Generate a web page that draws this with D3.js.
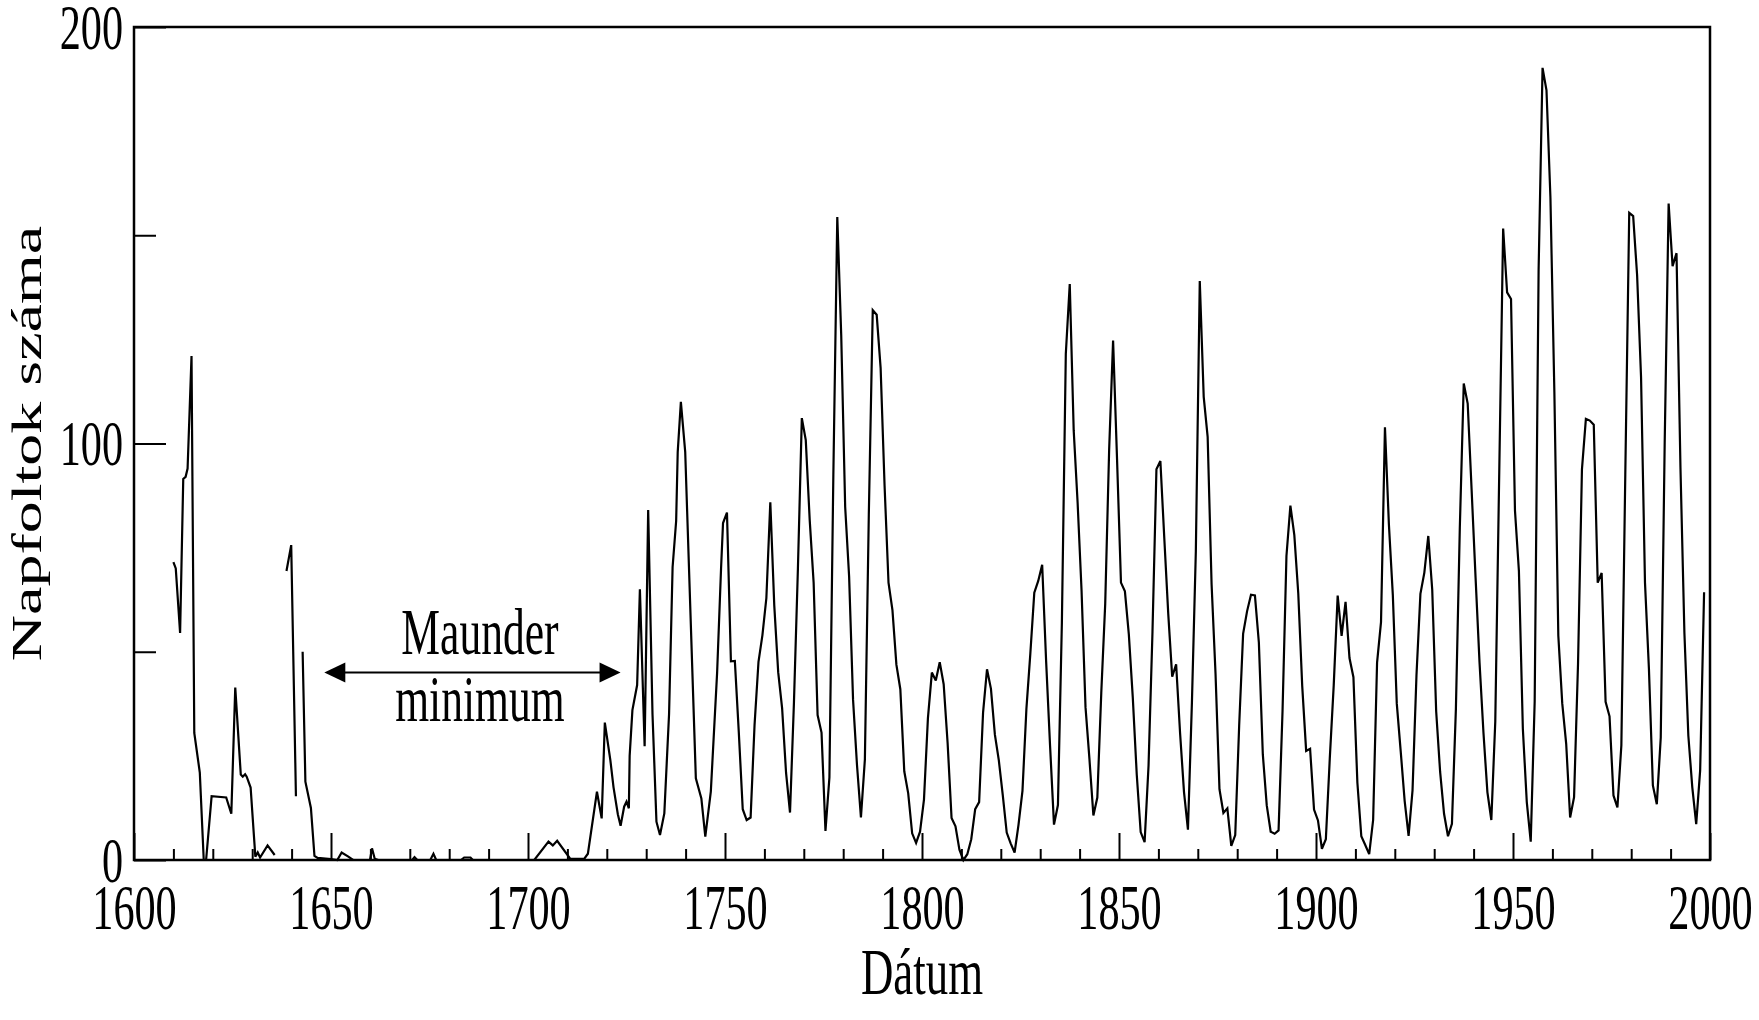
<!DOCTYPE html>
<html><head><meta charset="utf-8">
<script src="https://cdn.jsdelivr.net/npm/d3@7"></script>
<style>body{margin:0;background:#fff;overflow:hidden}svg{display:block}svg text{font-family:"Liberation Serif","Times New Roman",serif;fill:#000}</style>
</head><body>
<svg id="chart" width="1759" height="1020"></svg>
<script>
// Early record (1610-1748): positions (year) and counts; null = gap in the line
const earlyYears = [
  1610.0,1610.6,1611.7,1612.5,1613.1,1613.6,1614.6,1615.3,1616.7,1617.7,1618.3,1619.7,1623.4,1624.7,1625.7,
  1627.1,1627.6,1628.2,1628.6,1629.6,1630.8,1631.4,1632.0,1633.9,1635.7,
  1637.0,
  1638.7,1639.9,1641.1,
  1642.0,
  1642.8,1643.5,1644.9,1645.8,1646.6,1650.0,1651.6,1652.7,1654.4,1655.6,1659.9,1660.4,1661.1,1662.0,
  1670.6,1671.2,1671.9,1675.2,1676.0,1676.7,1683.0,1683.8,1685.4,1686.0,1701.6,1705.2,1706.3,1707.4,
  1710.7,1714.3,1715.2,1717.5,1718.7,1719.5,1720.9,1721.7,1722.8,1723.5,1724.4,1725.0,1725.6,1725.8,
  1726.5,1727.7,1728.4,1729.6,1730.5,1731.6,1732.6,1733.5,1734.6,1735.8,1736.7,1737.6,1738.0,1738.8,
  1739.9,1742.6,1744.0,1745.0,1746.4,1748.0,1749.0
];
const earlyCounts = [
  71.5,70,54.5,91.5,92,94,121,30.5,21,0,0,15.3,15,11.1,41.4,
  20.5,20,20.6,20,17.4,0.8,1.8,0.6,3.5,1.2,
  null,
  69.4,75.6,15.3,
  null,
  50,18.8,12.5,1,0.5,0.2,0,1.8,0.8,0,0,2.8,0.3,0,
  0,0.7,0,0,1.5,0,0,0.6,0.6,0,0,4.4,3.5,4.6,
  0.3,0.3,1.5,16.4,10,33,24,17.5,11,8.2,12.8,14,12.4,25,
  36,42,65,27.3,84,35,9.2,6,11.2,35,70.3,81.4,98,110,
  98,19.6,14.8,5.6,16.4,45,70
];
// Annual sunspot numbers 1749-1998 (plotted at mid-year)
const wolfFirstYear = 1749;
const wolfCounts = [
  80.9,83.4,47.7,47.8,30.7,12.2,9.6,10.2,32.4,47.6,54.0,62.9,85.9,61.2,45.1,36.4,20.9,11.4,37.8,69.8,
  106.1,100.8,81.6,66.5,34.8,30.6,7.0,19.8,92.5,154.4,125.9,84.8,68.1,38.5,22.8,10.2,24.1,82.9,132.0,130.9,
  118.1,89.9,66.6,60.0,46.9,41.0,21.3,16.0,6.4,4.1,6.8,14.5,34.0,45.0,43.1,47.5,42.2,28.1,10.1,8.1,
  2.5,0.0,1.4,5.0,12.2,13.9,35.4,45.8,41.1,30.1,23.9,15.6,6.6,4.0,1.8,8.5,16.6,36.3,49.6,64.2,
  67.0,70.9,47.8,27.5,8.5,13.2,56.9,121.5,138.3,103.2,85.7,64.6,36.7,24.2,10.7,15.0,40.1,61.5,98.5,124.7,
  96.3,66.6,64.5,54.1,39.0,20.6,6.7,4.3,22.7,54.8,93.8,95.8,77.2,59.1,44.0,47.0,30.5,16.3,7.3,37.6,
  74.0,139.0,111.2,101.6,66.2,44.7,17.0,11.3,12.4,3.4,6.0,32.3,54.3,59.7,63.7,63.5,52.2,25.4,13.1,6.8,
  6.3,7.1,35.6,73.0,85.1,78.0,64.0,41.8,26.2,26.7,12.1,9.5,2.7,5.0,24.4,42.0,63.5,53.8,62.0,48.5,
  43.9,18.6,5.7,3.6,1.4,9.6,47.4,57.1,103.9,80.6,63.6,37.6,26.1,14.2,5.8,16.7,44.3,63.9,69.0,77.8,
  64.9,35.7,21.2,11.1,5.7,8.7,36.1,79.7,114.4,109.6,88.8,67.8,47.5,30.6,16.3,9.6,33.2,92.6,151.6,136.3,
  134.7,83.9,69.4,31.5,13.9,4.4,38.0,141.7,190.2,184.8,159.0,112.3,53.9,37.6,27.9,10.2,15.1,47.0,93.8,105.9,
  105.5,104.5,66.6,68.9,38.0,34.5,15.5,12.6,27.5,92.5,155.4,154.6,140.4,115.9,66.6,45.9,17.9,13.4,29.4,100.2,
  157.6,142.6,145.7,94.3,54.6,29.9,17.5,8.6,21.5,64.3
];
const xMajorTicks = [1600,1650,1700,1750,1800,1850,1900,1950,2000];
const xMinorTicks = [1610,1620,1630,1640,1660,1670,1680,1690,1710,1720,1730,1740,1760,1770,1780,1790,
  1810,1820,1830,1840,1860,1870,1880,1890,1910,1920,1930,1940,1960,1970,1980,1990];
const yMajorTicks = [0,100,200];
const yMinorTicks = [50,150];
const xTitle = "Dátum";
const yTitle = "Napfoltok száma";
const noteLines = ["Maunder","minimum"];

const SX = 0.66;           // horizontal squeeze of the lettering
const FS = 64;
const FONT = '"Liberation Serif","Times New Roman",serif';

const svg = d3.select("#chart");
const x = d3.scaleLinear().domain([1600,2000]).range([134,1710]);
const y = d3.scaleLinear().domain([0,200]).range([860,27]);

const series = earlyYears.map((t,i)=>({t, v: earlyCounts[i]}))
  .concat(wolfCounts.map((v,i)=>({t: wolfFirstYear + i + 0.5, v})));

// frame
svg.append("rect").attr("x",x(1600)).attr("y",y(200))
  .attr("width",x(2000)-x(1600)).attr("height",y(0)-y(200))
  .attr("fill","none").attr("stroke","#000").attr("stroke-width",2.5);

function styleAxis(g){
  g.select(".domain").remove();
  g.selectAll(".tick line").attr("stroke","#000").attr("stroke-width",2);
}
// x axis
svg.append("g").attr("transform",`translate(0,${y(0)})`)
  .call(d3.axisBottom(x).tickValues(xMinorTicks).tickSize(-11).tickFormat(""))
  .call(styleAxis);
const gx = svg.append("g").attr("transform",`translate(0,${y(0)})`)
  .call(d3.axisBottom(x).tickValues(xMajorTicks).tickSize(-27).tickFormat(d3.format("d")))
  .call(styleAxis);
gx.selectAll(".tick text").attr("y",69).attr("dy",null)
  .attr("font-size",FS).attr("transform",`scale(${SX},1)`).attr("fill","#000")
  .style("font-family",FONT);

// y axis
svg.append("g").attr("transform",`translate(${x(1600)},0)`)
  .call(d3.axisLeft(y).tickValues(yMinorTicks).tickSize(-22).tickFormat(""))
  .call(styleAxis);
const gy = svg.append("g").attr("transform",`translate(${x(1600)},0)`)
  .call(d3.axisLeft(y).tickValues(yMajorTicks).tickSize(-32).tickFormat(d3.format("d")))
  .call(styleAxis);
gy.selectAll(".tick text").attr("x",-11/SX).attr("y",21).attr("dy",null)
  .attr("font-size",FS).attr("transform",`scale(${SX},1)`).attr("fill","#000")
  .style("font-family",FONT);

// series line
const line = d3.line().defined(d=>d.v!==null).x(d=>x(d.t)).y(d=>y(d.v));
svg.append("path").datum(series).attr("d",line)
  .attr("fill","none").attr("stroke","#000").attr("stroke-width",2.2)
  .attr("stroke-linejoin","miter").attr("stroke-miterlimit",3);

// titles
svg.append("text").attr("transform",`translate(${(x(1600)+x(2000))/2},994) scale(0.68,1)`)
  .attr("text-anchor","middle").attr("font-size",66).text(xTitle);
svg.append("text").attr("transform",`translate(41,${(y(0)+y(200))/2}) scale(${SX},1) rotate(-90)`)
  .attr("text-anchor","middle").attr("font-size",64).text(yTitle);

// Maunder minimum annotation
const ax0 = x(1648.3), ax1 = x(1723.5), ay = y(45);
svg.append("line").attr("x1",ax0+15).attr("x2",ax1-15).attr("y1",ay).attr("y2",ay)
  .attr("stroke","#000").attr("stroke-width",2);
svg.append("path").attr("d",`M${ax0},${ay}L${ax0+21},${ay-10}L${ax0+21},${ay+10}Z`).attr("fill","#000");
svg.append("path").attr("d",`M${ax1},${ay}L${ax1-21},${ay-10}L${ax1-21},${ay+10}Z`).attr("fill","#000");
const nx = x(1687.8);
svg.append("text").attr("transform",`translate(${nx},${y(49.5)}) scale(${SX},1)`)
  .attr("text-anchor","middle").attr("font-size",66).text(noteLines[0]);
svg.append("text").attr("transform",`translate(${nx},${y(33.4)}) scale(${SX},1)`)
  .attr("text-anchor","middle").attr("font-size",66).text(noteLines[1]);
</script>
</body></html>
